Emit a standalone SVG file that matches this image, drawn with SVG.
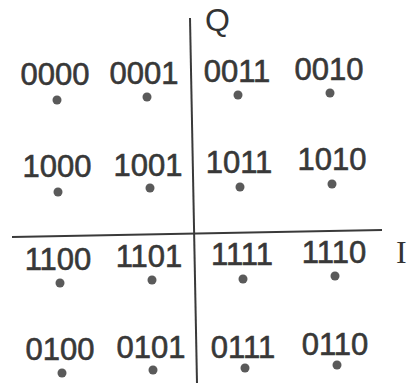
<svg xmlns="http://www.w3.org/2000/svg" width="411" height="383" viewBox="0 0 411 383">
<style>
.lb{font-family:"Liberation Sans",Arial,sans-serif;font-size:31px;fill:#383838;stroke:#383838;stroke-width:0.6;text-anchor:middle}
.ax{font-size:32px;fill:#333}
.pt{fill:#5a5a5a}
.axis{stroke:#3a3a3a;stroke-width:2;fill:none}
</style>
<rect width="411" height="383" fill="#fff"/>
<g id="axes">
<line class="axis" x1="190" y1="18" x2="197" y2="383"/>
<line class="axis" x1="12" y1="237" x2="382" y2="230"/>
<text class="ax" x="205" y="31" font-family="Liberation Sans,Arial,sans-serif">Q</text>
<text class="ax" x="396" y="263" font-family="Liberation Serif,Times New Roman,serif">I</text>
</g>
<g id="p0000"><text class="lb" x="55" y="85">0000</text><circle class="pt" cx="57" cy="100" r="4.5"/></g>
<g id="p0001"><text class="lb" x="144" y="84">0001</text><circle class="pt" cx="147" cy="97" r="4.5"/></g>
<g id="p0011"><text class="lb" x="237" y="82">0011</text><circle class="pt" cx="238" cy="95" r="4.5"/></g>
<g id="p0010"><text class="lb" x="329" y="80">0010</text><circle class="pt" cx="330" cy="93" r="4.5"/></g>
<g id="p1000"><text class="lb" x="57" y="177">1000</text><circle class="pt" cx="58" cy="192" r="4.5"/></g>
<g id="p1001"><text class="lb" x="148" y="176">1001</text><circle class="pt" cx="150" cy="188" r="4.5"/></g>
<g id="p1011"><text class="lb" x="239" y="173">1011</text><circle class="pt" cx="240" cy="187" r="4.5"/></g>
<g id="p1010"><text class="lb" x="332" y="170">1010</text><circle class="pt" cx="332" cy="184" r="4.5"/></g>
<g id="p1100"><text class="lb" x="58" y="270">1100</text><circle class="pt" cx="60" cy="283" r="4.5"/></g>
<g id="p1101"><text class="lb" x="149" y="267">1101</text><circle class="pt" cx="152" cy="280" r="4.5"/></g>
<g id="p1111"><text class="lb" x="242" y="265">1111</text><circle class="pt" cx="243" cy="279" r="4.5"/></g>
<g id="p1110"><text class="lb" x="334" y="263">1110</text><circle class="pt" cx="335" cy="276" r="4.5"/></g>
<g id="p0100"><text class="lb" x="60" y="360">0100</text><circle class="pt" cx="62" cy="373" r="4.5"/></g>
<g id="p0101"><text class="lb" x="151" y="358">0101</text><circle class="pt" cx="153" cy="370" r="4.5"/></g>
<g id="p0111"><text class="lb" x="243" y="358">0111</text><circle class="pt" cx="245" cy="368" r="4.5"/></g>
<g id="p0110"><text class="lb" x="335" y="355">0110</text><circle class="pt" cx="337" cy="365" r="4.5"/></g>
</svg>
